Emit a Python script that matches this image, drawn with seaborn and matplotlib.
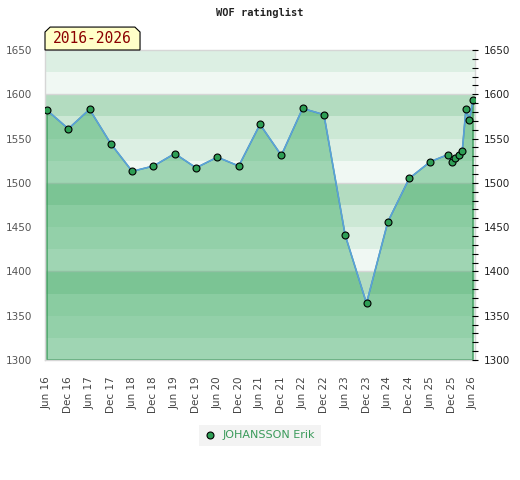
import pandas as pd
import matplotlib
matplotlib.use('Agg')
import matplotlib.pyplot as plt
import matplotlib.dates as mdates
from matplotlib.ticker import MultipleLocator
from matplotlib.patches import Polygon
from matplotlib.lines import Line2D
import seaborn as sns

# Rating history
dates = ['2016-06-01', '2016-12-01', '2017-06-01', '2017-12-01', '2018-06-01',
         '2018-12-01', '2019-06-01', '2019-12-01', '2020-06-01', '2020-12-01',
         '2021-06-01', '2021-12-01', '2022-06-01', '2022-12-01', '2023-06-01',
         '2023-12-01', '2024-06-01', '2024-12-01', '2025-06-01', '2025-11-01',
         '2025-12-01', '2026-01-01', '2026-02-01', '2026-03-01', '2026-04-01',
         '2026-05-01', '2026-06-01']
ratings = [1582, 1561, 1583, 1544, 1513, 1519, 1533, 1517, 1529, 1519,
           1566, 1531, 1584, 1577, 1441, 1364, 1456, 1505, 1524, 1532,
           1523, 1528, 1532, 1536, 1583, 1571, 1593]
player = 'JOHANSSON Erik'
period = '2016-2026'
title = 'WOF ratinglist'

df = pd.DataFrame({'date': pd.to_datetime(dates), 'rating': ratings})

sns.set_style('white')
plt.rcParams['font.family'] = ['DejaVu Sans']

fig = plt.figure(figsize=(5.2, 4.8), dpi=100)
ax = fig.add_axes([45 / 520, 1 - 360 / 480, 430 / 520, 310 / 480])

ymin, ymax = 1300, 1650
ax.set_ylim(ymin, ymax)
ax.set_xlim(pd.Timestamp('2016-05-15'), pd.Timestamp('2026-06-18'))

# background bands: four shades in every 100 block, darkest at the top
shades = ['#f0f8f3', '#dcefe3', '#cce8d5', '#b3dcc0']
for lo in range(ymin, ymax, 25):
    ax.axhspan(lo, lo + 25, color=shades[(lo // 25) % 4], lw=0, zorder=0)
for lv in range(1400, ymax, 100):
    ax.axhline(lv, color='#d6d6d6', lw=1, zorder=0.5)

ax.fill_between(df['date'], df['rating'], ymin, facecolor='#27a254', alpha=0.4,
                edgecolor='none', zorder=1)
ax.fill_between(df['date'], df['rating'], ymin, facecolor='none',
                edgecolor='#3a9a5a', lw=1, zorder=1.2)

sns.lineplot(data=df, x='date', y='rating', ax=ax, color='#5ba0dc', lw=1.2,
             marker='o', markersize=5, markerfacecolor='#2e9e55',
             markeredgecolor='black', markeredgewidth=0.8, zorder=3)

ax.set_xlabel('')
ax.set_ylabel('')
ax.xaxis.set_major_locator(mdates.MonthLocator(bymonth=[6, 12]))
ax.xaxis.set_major_formatter(mdates.DateFormatter('%b %y'))
ax.tick_params(axis='x', rotation=90, length=0, pad=12, labelsize=7.5, labelcolor='#444444')
ax.yaxis.set_major_locator(MultipleLocator(50))
ax.tick_params(axis='y', length=0, pad=9, labelsize=7.5, labelcolor='#555555')
for sp in ax.spines.values():
    sp.set_color('#d6d6d6')
    sp.set_linewidth(1)

ax2 = ax.twinx()
ax2.set_ylim(ymin, ymax)
ax2.yaxis.set_major_locator(MultipleLocator(50))
ax2.yaxis.set_minor_locator(MultipleLocator(10))
ax2.tick_params(axis='y', which='major', direction='inout', length=5, width=0.8,
                color='black', pad=4, labelsize=7.5, labelcolor='#222222')
ax2.tick_params(axis='y', which='minor', direction='inout', length=4, width=0.8,
                color='black')
for sp in ax2.spines.values():
    sp.set_visible(False)

fig.text(0.5, 1 - 13 / 480, title, ha='center', va='center', fontsize=7.5,
         family='DejaVu Sans Mono', fontweight='bold', color='#222222')

# period label with chamfered top corners, sitting on the top edge
tag = Polygon([(0, 1.0), (0, 1.058), (0.012, 1.074), (0.209, 1.074), (0.221, 1.058), (0.221, 1.0)],
              closed=True, transform=ax.transAxes, facecolor='#ffffc8',
              edgecolor='black', lw=0.8, clip_on=False, zorder=5)
ax.add_patch(tag)
ax.text(0.11, 1.036, period, transform=ax.transAxes, ha='center', va='center',
        fontsize=10.5, family='DejaVu Sans Mono', color='#8b0000', zorder=6)

handle = Line2D([], [], ls='none', marker='o', markersize=5, markerfacecolor='#2e9e55',
                markeredgecolor='black', markeredgewidth=0.8)
leg = fig.legend([handle], [player], loc='center', bbox_to_anchor=(0.5, 1 - 435.5 / 480),
                 frameon=True, fancybox=False, fontsize=8, handlelength=1, handletextpad=0.6,
                 borderpad=0.5)
leg.get_frame().set_facecolor('#f0f0f0')
leg.get_frame().set_edgecolor('none')
for t in leg.get_texts():
    t.set_color('#3a9a5a')

fig.savefig('out.png', dpi=100)
